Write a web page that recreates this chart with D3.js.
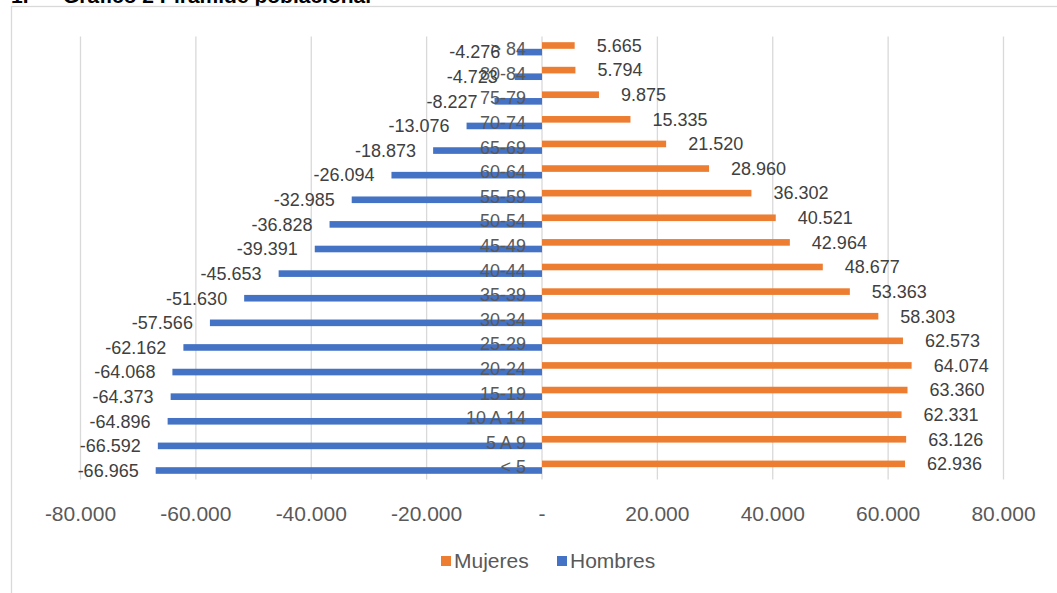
<!DOCTYPE html>
<html>
<head>
<meta charset="utf-8">
<script src="https://cdn.jsdelivr.net/npm/d3@7"></script>
<style>
  html, body { margin: 0; padding: 0; background: #fff; }
  svg { display: block; font-family: "Liberation Sans", Arial, sans-serif; }
  .grid line { stroke: #d9d9d9; stroke-width: 1.3; }
  .tick-label { fill: #595959; font-size: 21px; }
  .cat-label { fill: #595959; font-size: 18px; }
  .val-label { fill: #404040; font-size: 18px; }
  .legend text { fill: #595959; font-size: 21px; }
</style>
</head>
<body>
<svg id="viz" width="1057" height="593"></svg>
<script>
// categories top to bottom
const categories = ["> 84", "80-84", "75-79", "70-74", "65-69", "60-64", "55-59", "50-54", "45-49",
  "40-44", "35-39", "30-34", "25-29", "20-24", "15-19", "10 A 14", "5 A 9", "< 5"];
const mujeres = [5665, 5794, 9875, 15335, 21520, 28960, 36302, 40521, 42964,
  48677, 53363, 58303, 62573, 64074, 63360, 62331, 63126, 62936];
const hombres = [-4276, -4723, -8227, -13076, -18873, -26094, -32985, -36828, -39391,
  -45653, -51630, -57566, -62162, -64068, -64373, -64896, -66592, -66965];
const series = ["Mujeres", "Hombres"];
const colors = { Mujeres: "#ED7D31", Hombres: "#4472C4" };
const xTicks = [-80000, -60000, -40000, -20000, 0, 20000, 40000, 60000, 80000];

const svg = d3.select("#viz");
const loc = d3.formatLocale({ decimal: ",", thousands: ".", grouping: [3], currency: ["$", ""], minus: "-" });
const fmt = loc.format(",d");
const tickFmt = v => v === 0 ? "-" : fmt(v);

const x = d3.scaleLinear().domain([-80000, 80000]).range([80.5, 1003.5]);
const y = d3.scaleBand().domain(categories).range([36.5, 479.5]);
const ySub = d3.scaleBand().domain(series).range([0, y.bandwidth()]).paddingOuter(0.86);

// title (cut at top)
svg.append("text").attr("x", 11).attr("y", 2.5)
  .style("font-size", "21px").style("font-weight", "bold").attr("fill", "#000")
  .text("1.");
svg.append("text").attr("x", 63).attr("y", 2.5)
  .style("font-size", "21px").style("font-weight", "bold").attr("fill", "#000")
  .text("Gráfico 2 Pirámide poblacional");

// chart frame
svg.append("rect").attr("x", 11.5).attr("y", 6.5).attr("width", 1100).attr("height", 650)
  .attr("fill", "none").attr("stroke", "#d9d9d9").attr("stroke-width", 1.3);

// grid
svg.append("g").attr("class", "grid")
  .selectAll("line").data(xTicks).join("line")
  .attr("x1", d => x(d)).attr("x2", d => x(d))
  .attr("y1", y.range()[0]).attr("y2", y.range()[1]);

// tick labels
svg.append("g").selectAll("text").data(xTicks).join("text")
  .attr("class", "tick-label")
  .attr("x", d => x(d)).attr("y", 521)
  .attr("text-anchor", "middle")
  .text(tickFmt);

const rows = categories.map((c, i) => ({ cat: c, Mujeres: mujeres[i], Hombres: hombres[i] }));

// bars
series.forEach(s => {
  svg.append("g").selectAll("rect").data(rows).join("rect")
    .attr("x", d => Math.min(x(0), x(d[s])))
    .attr("width", d => Math.abs(x(d[s]) - x(0)))
    .attr("y", d => y(d.cat) + ySub(s))
    .attr("height", ySub.bandwidth())
    .attr("fill", colors[s]);
});

// category labels
svg.append("g").selectAll("text").data(categories).join("text")
  .attr("class", "cat-label")
  .attr("x", x(0) - 16)
  .attr("y", d => y(d) + y.bandwidth() / 2)
  .attr("dy", "0.35em")
  .attr("text-anchor", "end")
  .text(d => d);

// value labels
svg.append("g").selectAll("text").data(rows).join("text")
  .attr("class", "val-label")
  .attr("x", d => x(d.Mujeres) + 22)
  .attr("y", d => y(d.cat) + ySub("Mujeres") + ySub.bandwidth() / 2)
  .attr("dy", "0.35em")
  .text(d => fmt(d.Mujeres));
svg.append("g").selectAll("text").data(rows).join("text")
  .attr("class", "val-label")
  .attr("x", d => x(d.Hombres) - 17)
  .attr("y", d => y(d.cat) + ySub("Hombres") + ySub.bandwidth() / 2)
  .attr("dy", "0.35em")
  .attr("text-anchor", "end")
  .text(d => fmt(d.Hombres));

// legend
const legend = svg.append("g").attr("class", "legend");
const legendPos = [{ s: "Mujeres", x: 441 }, { s: "Hombres", x: 557 }];
legendPos.forEach(p => {
  legend.append("rect").attr("x", p.x).attr("y", 556).attr("width", 10).attr("height", 10)
    .attr("fill", colors[p.s]);
  legend.append("text").attr("x", p.x + 13).attr("y", 561).attr("dy", "0.35em").text(p.s);
});
</script>
</body>
</html>
